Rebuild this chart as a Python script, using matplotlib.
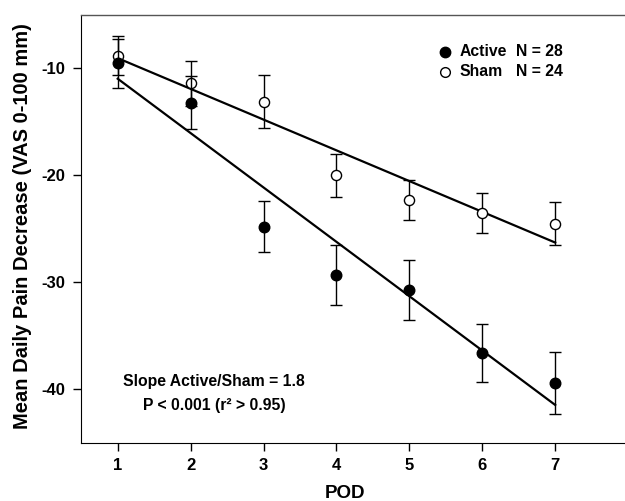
import numpy as np
import matplotlib
matplotlib.use("Agg")
import matplotlib.pyplot as plt

plt.rcParams['font.family'] = ['Liberation Sans', 'DejaVu Sans']
plt.rcParams['font.weight'] = 'bold'
plt.rcParams['axes.unicode_minus'] = False

pod = [1, 2, 3, 4, 5, 6, 7]
active_mean = [-9.5, -13.2, -24.8, -29.3, -30.7, -36.6, -39.4]
active_err = [2.3, 2.5, 2.4, 2.8, 2.8, 2.7, 2.9]
sham_mean = [-8.8, -11.4, -13.1, -20.0, -22.3, -23.5, -24.5]
sham_err = [1.8, 2.1, 2.5, 2.0, 1.9, 1.85, 2.0]

fig = plt.figure(figsize=(6.25, 5.01), dpi=100)
ax = fig.add_axes([0.130, 0.1164, 0.875, 0.8536])

# regression lines through the means
x = np.array(pod, dtype=float)
for m in [active_mean, sham_mean]:
    k, b = np.polyfit(x, m, 1)
    ax.plot([x[0], x[-1]], [k * x[0] + b, k * x[-1] + b], color='black', lw=1.6, zorder=2)

ax.errorbar(pod, sham_mean, yerr=sham_err, fmt='o', color='black', mfc='white', mec='black',
            ms=7.3, mew=1.0, ecolor='black', elinewidth=1.0, capsize=4.5, capthick=1.0, zorder=3)
ax.errorbar(pod, active_mean, yerr=active_err, fmt='o', color='black', mfc='black', mec='black',
            ms=7.6, mew=1.0, ecolor='black', elinewidth=1.0, capsize=4.5, capthick=1.0, zorder=4)

ax.set_xlim(0.5, 8.0)
ax.set_ylim(-45, -5)
ax.set_xticks(pod)
ax.set_yticks([-10, -20, -30, -40])
ax.tick_params(direction='out', length=6, width=1.0, labelsize=12, colors='black')
ax.tick_params(axis='x', pad=5)
ax.tick_params(axis='y', pad=5.5)
for lab in ax.get_xticklabels() + ax.get_yticklabels():
    lab.set_fontweight('bold')
ax.spines['top'].set_color('#555555')
ax.spines['top'].set_linewidth(1.0)
ax.spines['right'].set_visible(False)

ax.set_xlabel('POD', fontsize=13.5, fontweight='bold')
ax.xaxis.set_label_coords(0.483, -0.100)
ax.set_ylabel('Mean Daily Pain Decrease (VAS 0-100 mm)', fontsize=14.5, fontweight='bold')
ax.yaxis.set_label_coords(-0.1076, 0.5055)
ax.yaxis.label.set_va('center')

# legend
ax.plot([0.6653], [0.914], 'o', color='black', ms=7.5, transform=ax.transAxes, clip_on=False)
ax.plot([0.6653], [0.867], 'o', mfc='white', mec='black', ms=7, mew=1.0, transform=ax.transAxes, clip_on=False)
ax.text(0.6914, 0.914, 'Active', transform=ax.transAxes, va='center', fontsize=11.3, fontweight='bold')
ax.text(0.6914, 0.867, 'Sham', transform=ax.transAxes, va='center', fontsize=11.3, fontweight='bold')
ax.text(0.7951, 0.914, 'N = 28', transform=ax.transAxes, va='center', fontsize=11.3, fontweight='bold')
ax.text(0.7951, 0.867, 'N = 24', transform=ax.transAxes, va='center', fontsize=11.3, fontweight='bold')

ax.text(0.243, 0.144, 'Slope Active/Sham = 1.8', transform=ax.transAxes, ha='center', va='center',
        fontsize=11.3, fontweight='bold')
ax.text(0.243, 0.086, 'P < 0.001 (r² > 0.95)', transform=ax.transAxes, ha='center', va='center',
        fontsize=11.3, fontweight='bold')

fig.savefig('out.png', dpi=100)
